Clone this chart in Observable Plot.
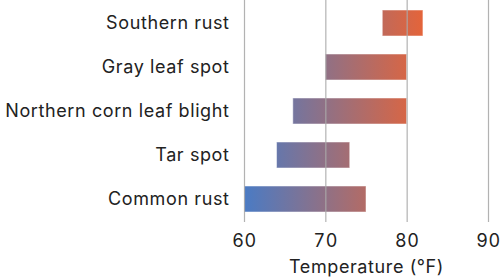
<!DOCTYPE html>
<html>
<head>
<meta charset="utf-8">
<script src="https://cdn.jsdelivr.net/npm/d3@7"></script>
<script src="https://cdn.jsdelivr.net/npm/@observablehq/plot@0.6"></script>
<style>
  html, body { margin: 0; padding: 0; background: #fff; }
  #chart { width: 500px; height: 280px; }
  #chart svg text { letter-spacing: 0.6px; }
</style>
</head>
<body>
<div id="chart"></div>
<script>
const diseases = ["Southern rust", "Gray leaf spot", "Northern corn leaf blight", "Tar spot", "Common rust"];
const minTemps = [77, 70, 66, 64, 60];
const maxTemps = [82, 80, 80, 73, 75];
const xTicks = [60, 70, 80, 90];
const gradientStart = 60, gradientEnd = 82;
const gradientColors = ["#4a7bc4", "#e4643a"];

const data = diseases.map((d, i) => ({disease: d, lo: minTemps[i], hi: maxTemps[i]}));

const gradientDefs = (index, {x}) => {
  const defs = d3.create("svg:defs");
  const g = defs.append("linearGradient")
    .attr("id", "tempGrad")
    .attr("gradientUnits", "userSpaceOnUse")
    .attr("x1", x(gradientStart)).attr("x2", x(gradientEnd))
    .attr("y1", 0).attr("y2", 0);
  g.append("stop").attr("offset", "0%").attr("stop-color", gradientColors[0]);
  g.append("stop").attr("offset", "100%").attr("stop-color", gradientColors[1]);
  return defs.node();
};

const chart = Plot.plot({
  width: 500,
  height: 280,
  marginLeft: 244,
  marginRight: 12,
  marginTop: 0,
  marginBottom: 58,
  style: {fontFamily: "Inter, sans-serif", fontSize: "18px", color: "#222", background: "#fff"},
  x: {domain: [60, 90], ticks: xTicks, label: "Temperature (°F)", labelAnchor: "center", labelArrow: "none"},
  y: {domain: diseases, paddingInner: 0.41, paddingOuter: 0.22, label: null},
  marks: [
    gradientDefs,
    Plot.barX(data, {y: "disease", x1: "lo", x2: "hi", fill: "url(#tempGrad)", stroke: "#fff", strokeOpacity: 0.5, strokeWidth: 1}),
    Plot.gridX(xTicks, {stroke: "#aaa", strokeOpacity: 0.9, strokeWidth: 1.2}),
    Plot.axisY({tickSize: 0, tickPadding: 15, fontSize: 18}),
    Plot.axisX(xTicks, {tickSize: 0, tickPadding: 12, fontSize: 18, label: "Temperature (°F)", labelAnchor: "center", labelArrow: "none", labelOffset: 50})
  ]
});
document.getElementById("chart").appendChild(chart);
</script>
</body>
</html>
